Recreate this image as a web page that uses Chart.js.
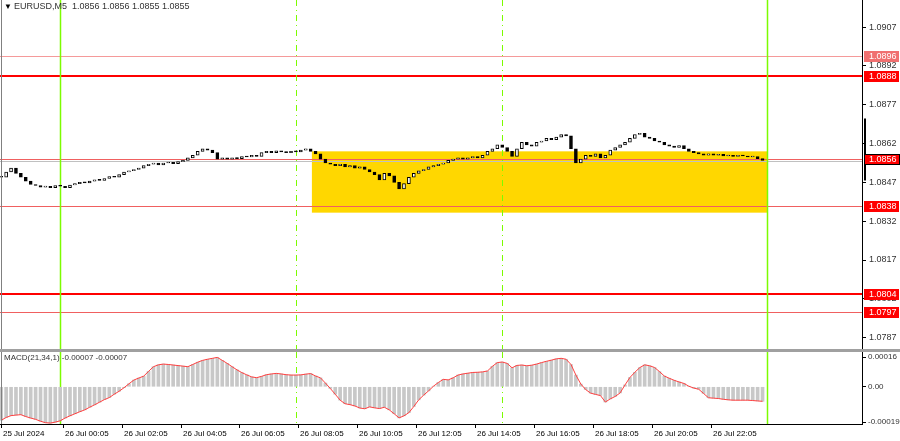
<!DOCTYPE html>
<html>
<head>
<meta charset="utf-8">
<script src="https://cdn.jsdelivr.net/npm/chart.js@4"></script>
<style>
body { margin: 0; background: #fff; width: 900px; height: 441px; overflow: hidden; }
canvas { display: block; }
#sep { height: 3px; background: #a0a0a0; width: 900px; }
</style>
</head>
<body>
<canvas id="main" width="900" height="349"></canvas>
<div id="sep"></div>
<canvas id="macd" width="900" height="89"></canvas>
<script>
// closes of 10-minute steps, index in 5-min bars = 2*i
var closes = [1.08490,1.08510,1.08525,1.08505,1.08490,1.08475,1.08462,1.08458,1.08452,1.08455,
  1.08450,1.08458,1.08455,1.08450,1.08460,1.08465,1.08470,1.08468,1.08475,1.08480,
  1.08478,1.08485,1.08492,1.08490,1.08500,1.08510,1.08515,1.08520,1.08525,1.08535,
  1.08540,1.08545,1.08538,1.08545,1.08548,1.08542,1.08550,1.08555,1.08565,1.08575,
  1.08590,1.08600,1.08595,1.08585,1.08560,1.08565,1.08560,1.08565,1.08562,1.08570,
  1.08568,1.08575,1.08570,1.08585,1.08590,1.08585,1.08592,1.08588,1.08585,1.08590,
  1.08588,1.08595,1.08600,1.08590,1.08580,1.08560,1.08545,1.08540,1.08535,1.08540,
  1.08530,1.08535,1.08525,1.08530,1.08520,1.08510,1.08500,1.08480,1.08505,1.08495,
  1.08470,1.08445,1.08465,1.08490,1.08505,1.08515,1.08520,1.08530,1.08535,1.08540,
  1.08545,1.08555,1.08560,1.08565,1.08560,1.08565,1.08570,1.08565,1.08575,1.08590,
  1.08600,1.08615,1.08605,1.08590,1.08570,1.08600,1.08625,1.08615,1.08610,1.08625,
  1.08630,1.08640,1.08635,1.08645,1.08655,1.08650,1.08600,1.08545,1.08560,1.08575,
  1.08570,1.08580,1.08565,1.08575,1.08595,1.08605,1.08615,1.08625,1.08640,1.08655,
  1.08660,1.08645,1.08640,1.08630,1.08625,1.08615,1.08610,1.08605,1.08612,1.08600,
  1.08590,1.08585,1.08580,1.08575,1.08580,1.08575,1.08578,1.08572,1.08575,1.08570,
  1.08575,1.08572,1.08568,1.08570,1.08562,1.08555];

var macdValues = [-0.000180,-0.000165,-0.000155,-0.000152,-0.000150,-0.000160,-0.000168,-0.000175,-0.000185,-0.000193,
  -0.000195,-0.000190,-0.000183,-0.000168,-0.000156,-0.000145,-0.000134,-0.000124,-0.000110,-0.000097,
  -0.000083,-0.000069,-0.000058,-0.000040,-0.000024,-0.000005,0.000016,0.000036,0.000047,0.000057,
  0.000083,0.000108,0.000118,0.000122,0.000120,0.000117,0.000114,0.000111,0.000108,0.000120,
  0.000132,0.000142,0.000148,0.000153,0.000158,0.000142,0.000126,0.000108,0.000091,0.000076,
  0.000064,0.000053,0.000049,0.000056,0.000065,0.000069,0.000072,0.000069,0.000065,0.000063,
  0.000063,0.000064,0.000068,0.000071,0.000058,0.000048,0.000020,-0.000009,-0.000040,-0.000072,
  -0.000091,-0.000096,-0.000103,-0.000114,-0.000118,-0.000108,-0.000113,-0.000117,-0.000110,-0.000124,
  -0.000145,-0.000167,-0.000156,-0.000139,-0.000106,-0.000070,-0.000045,-0.000022,0.000003,0.000023,
  0.000040,0.000037,0.000048,0.000063,0.000069,0.000073,0.000077,0.000078,0.000080,0.000085,
  0.000110,0.000130,0.000133,0.000126,0.000102,0.000115,0.000117,0.000113,0.000116,0.000122,
  0.000130,0.000137,0.000143,0.000150,0.000153,0.000148,0.000120,0.000063,0.000015,-0.000015,
  -0.000034,-0.000041,-0.000047,-0.000082,-0.000065,-0.000052,-0.000033,0.000010,0.000050,0.000078,
  0.000103,0.000118,0.000113,0.000104,0.000082,0.000058,0.000046,0.000035,0.000026,0.000018,
  0.000003,-0.000007,-0.000013,-0.000036,-0.000059,-0.000061,-0.000063,-0.000067,-0.000070,-0.000072,
  -0.000072,-0.000072,-0.000072,-0.000074,-0.000076,-0.000078];

var priceTicks = [1.0907, 1.0892, 1.0877, 1.0862, 1.0847, 1.0832, 1.0817, 1.0802, 1.0787];
var macdTicks = [0.00016, 0, -0.00019];
var macdTickLabels = ['0.00016', '0.00', '-0.00019'];
var timeIdx = [0, 25, 49, 73, 97, 121, 145, 169, 193, 217, 241, 265, 289];
var timeLabels = ['25 Jul 2024', '26 Jul 00:05', '26 Jul 02:05', '26 Jul 04:05', '26 Jul 06:05', '26 Jul 08:05',
  '26 Jul 10:05', '26 Jul 12:05', '26 Jul 14:05', '26 Jul 16:05', '26 Jul 18:05', '26 Jul 20:05', '26 Jul 22:05'];
var levels = [1.0896, 1.0888, 1.0856, 1.0838, 1.0804, 1.0797];
var levelLabels = ['1.0896', '1.0888', '1.0856', '1.0838', '1.0804', '1.0797'];
var levelColors = ['#f59a9a', '#ff0000', '#f06060', '#f06060', '#ff0000', '#f06060'];
var levelWidths = [1, 2, 1, 1, 2, 1];
var solidLines = [24, 312];
var dashedLines = [120, 204];
var boxX = [126.5, 312];
var boxY = [1.08353, 1.08590];
var bidPrice = 1.08553;

var FONT = '"Liberation Sans", Arial, sans-serif';
var xScale = { type: 'linear', min: -0.5, max: 350.5, display: false, offset: false };

var candles = closes.map(function(c, i) {
  var o = i === 0 ? c : closes[i - 1];
  return { x: 2 * i, y: [o, c] };
});
var candleFill = closes.map(function(c, i) {
  var o = i === 0 ? c : closes[i - 1];
  return c >= o ? '#ffffff' : '#000000';
});

function fitAxis(s) { s.width = 38; s.paddingTop = 0; s.paddingBottom = 0; }

function drawVerticals(chart) {
  var ctx = chart.ctx, a = chart.chartArea, x = chart.scales.x;
  ctx.save();
  ctx.strokeStyle = '#7cfc00';
  ctx.lineWidth = 1.5;
  solidLines.forEach(function(v) {
    var px = Math.round(x.getPixelForValue(v)) + 0.5;
    ctx.beginPath(); ctx.moveTo(px, a.top); ctx.lineTo(px, a.bottom); ctx.stroke();
  });
  ctx.lineWidth = 1;
  ctx.setLineDash([6, 4, 1, 4]);
  dashedLines.forEach(function(v) {
    var px = Math.round(x.getPixelForValue(v)) + 0.5;
    ctx.beginPath(); ctx.moveTo(px, a.top); ctx.lineTo(px, a.bottom); ctx.stroke();
  });
  ctx.restore();
}

var mainOverlay = {
  id: 'mainOverlay',
  beforeDatasetsDraw: function(chart) {
    var ctx = chart.ctx, a = chart.chartArea, x = chart.scales.x, y = chart.scales.y;
    ctx.save();
    ctx.fillStyle = '#ffd700';
    var x0 = x.getPixelForValue(boxX[0]), x1 = x.getPixelForValue(boxX[1]);
    var y0 = y.getPixelForValue(boxY[1]), y1 = y.getPixelForValue(boxY[0]);
    ctx.fillRect(x0, y0, x1 - x0, y1 - y0);
    // bid line
    ctx.strokeStyle = '#c0c0c0';
    ctx.lineWidth = 1;
    var by = Math.round(y.getPixelForValue(bidPrice)) + 0.5;
    ctx.beginPath(); ctx.moveTo(a.left, by); ctx.lineTo(a.right, by); ctx.stroke();
    levels.forEach(function(l, i) {
      ctx.strokeStyle = levelColors[i];
      ctx.lineWidth = levelWidths[i];
      var py = Math.round(y.getPixelForValue(l)) + (levelWidths[i] === 1 ? 0.5 : 0);
      ctx.beginPath(); ctx.moveTo(a.left, py); ctx.lineTo(a.right, py); ctx.stroke();
    });
    ctx.restore();
    drawVerticals(chart);
  },
  afterDraw: function(chart) {
    var ctx = chart.ctx, a = chart.chartArea, y = chart.scales.y;
    ctx.save();
    ctx.strokeStyle = '#808080';
    ctx.lineWidth = 1;
    ctx.beginPath(); ctx.moveTo(1.5, 0); ctx.lineTo(1.5, a.bottom); ctx.stroke();
    ctx.strokeStyle = '#000';
    ctx.beginPath(); ctx.moveTo(a.right + 0.5, 0); ctx.lineTo(a.right + 0.5, a.bottom); ctx.stroke();
    // range marker on the price axis
    ctx.lineWidth = 2;
    ctx.beginPath();
    ctx.moveTo(a.right + 3, y.getPixelForValue(1.08717));
    ctx.lineTo(a.right + 3, y.getPixelForValue(1.08477));
    ctx.stroke();
    ctx.font = '9px ' + FONT;
    ctx.textBaseline = 'middle';
    levels.forEach(function(l, i) {
      var py = Math.round(y.getPixelForValue(l));
      ctx.fillStyle = i === 0 ? '#f07070' : '#ff0000';
      ctx.fillRect(a.right + 2, py - 5, 35, 11);
      if (i === 2) { ctx.strokeStyle = '#000'; ctx.lineWidth = 1; ctx.strokeRect(a.right + 2.5, py - 4.5, 35, 10); }
      ctx.fillStyle = '#fff';
      ctx.fillText(levelLabels[i], a.right + 7, py + 0.5);
    });
    ctx.fillStyle = '#000';
    ctx.font = '8px ' + FONT;
    ctx.fillText('\u25BC', 4, 7);
    ctx.fillStyle = '#333';
    ctx.font = '9px ' + FONT;
    ctx.fillText('EURUSD,M5  1.0856 1.0856 1.0855 1.0855', 14, 7);
    ctx.restore();
  }
};

new Chart(document.getElementById('main'), {
  type: 'bar',
  data: {
    datasets: [{
      data: candles,
      backgroundColor: candleFill,
      borderColor: '#000',
      borderWidth: 1,
      borderSkipped: false,
      barThickness: 3,
      minBarLength: 1
    }]
  },
  options: {
    responsive: false,
    animation: false,
    layout: { padding: 0 },
    plugins: { legend: { display: false }, tooltip: { enabled: false } },
    scales: {
      x: xScale,
      y: {
        position: 'right',
        min: 1.07826, max: 1.09175,
        afterFit: fitAxis,
        afterBuildTicks: function(s) { s.ticks = priceTicks.map(function(v) { return { value: v }; }); },
        grid: { drawOnChartArea: false, tickLength: 4, color: '#000' },
        border: { display: false },
        ticks: { color: '#333', font: { family: FONT, size: 9 }, padding: 3,
          callback: function(v) { return v.toFixed(4); } }
      }
    }
  },
  plugins: [mainOverlay]
});

var macdOverlay = {
  id: 'macdOverlay',
  beforeDatasetsDraw: function(chart) { drawVerticals(chart); },
  afterDraw: function(chart) {
    var ctx = chart.ctx, a = chart.chartArea, x = chart.scales.x;
    ctx.save();
    ctx.strokeStyle = '#808080';
    ctx.lineWidth = 1;
    ctx.beginPath(); ctx.moveTo(1.5, 0); ctx.lineTo(1.5, a.bottom); ctx.stroke();
    ctx.strokeStyle = '#000';
    ctx.beginPath(); ctx.moveTo(a.right + 0.5, 0); ctx.lineTo(a.right + 0.5, a.bottom + 1); ctx.stroke();
    ctx.beginPath(); ctx.moveTo(0, a.bottom + 0.5); ctx.lineTo(a.right, a.bottom + 0.5); ctx.stroke();
    ctx.font = '8px ' + FONT;
    ctx.textBaseline = 'middle';
    ctx.fillStyle = '#333';
    ctx.fillText('MACD(21,34,1) -0.00007 -0.00007', 4, 6);
    ctx.fillStyle = '#000';
    timeIdx.forEach(function(v, i) {
      var px = Math.round(x.getPixelForValue(v));
      ctx.fillRect(px, a.bottom, 1, 4);
      ctx.fillText(timeLabels[i], px + 2, a.bottom + 10);
    });
    ctx.restore();
  }
};

new Chart(document.getElementById('macd'), {
  data: {
    datasets: [{
      type: 'bar',
      data: macdValues.map(function(v, i) { return { x: 2 * i, y: v }; }),
      backgroundColor: '#c8c8c8',
      barThickness: 3,
      order: 2
    }, {
      type: 'line',
      data: macdValues.map(function(v, i) { return { x: 2 * i, y: v }; }),
      borderColor: '#ff4040',
      borderWidth: 1,
      pointRadius: 0,
      order: 1
    }]
  },
  options: {
    responsive: false,
    animation: false,
    layout: { padding: { bottom: 17 } },
    plugins: { legend: { display: false }, tooltip: { enabled: false } },
    scales: {
      x: xScale,
      y: {
        position: 'right',
        min: -0.0002, max: 0.000187,
        afterFit: fitAxis,
        afterBuildTicks: function(s) { s.ticks = macdTicks.map(function(v) { return { value: v }; }); },
        grid: { drawOnChartArea: false, tickLength: 4, color: '#000' },
        border: { display: false },
        ticks: { color: '#333', font: { family: FONT, size: 8 }, padding: 2,
          callback: function(v, i) { return macdTickLabels[i]; } }
      }
    }
  },
  plugins: [macdOverlay]
});
</script>
</body>
</html>
